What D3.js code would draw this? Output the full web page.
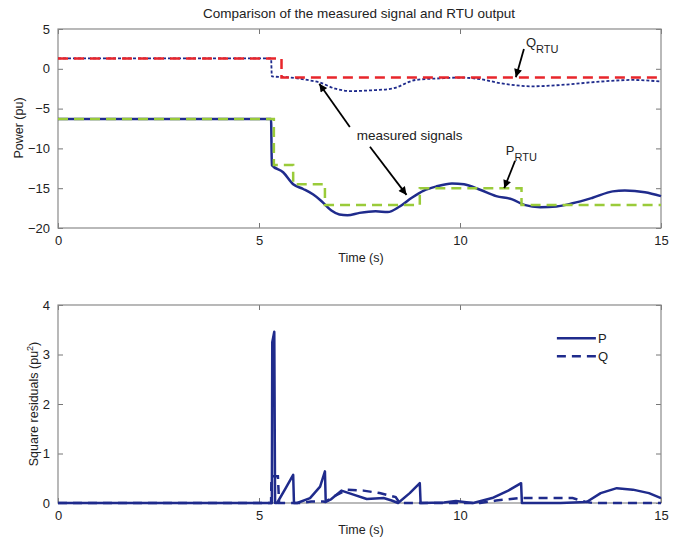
<!DOCTYPE html>
<html>
<head>
<meta charset="utf-8">
<script src="https://cdn.jsdelivr.net/npm/d3@7"></script>
<style>
  body { margin: 0; background: #fff; }
  text { font-family: "Liberation Sans", Arial, sans-serif; fill: #222; }
</style>
</head>
<body>
<div id="chart"></div>
<script>
// data (time in s)
var pMeasured = [[0,-6.3],[5.3,-6.3],[5.32,-12.1],[5.6,-13.0],[5.85,-14.5],[6.1,-15.1],[6.35,-15.8],[6.55,-16.6],[6.8,-17.8],[7.0,-18.3],[7.2,-18.4],[7.5,-18.1],[7.9,-17.9],[8.2,-18.0],[8.5,-17.3],[8.8,-16.2],[9.1,-15.3],[9.4,-14.8],[9.8,-14.4],[10.1,-14.5],[10.5,-15.2],[10.9,-16.0],[11.3,-16.4],[11.6,-17.1],[12.0,-17.4],[12.4,-17.3],[12.8,-16.9],[13.3,-16.2],[13.8,-15.4],[14.1,-15.3],[14.6,-15.5],[15,-16.0]];
var qMeasured = [[0,1.3],[5.3,1.3],[5.32,-0.95],[5.8,-1.1],[6.2,-1.4],[6.5,-1.7],[6.9,-2.5],[7.3,-2.8],[7.8,-2.7],[8.3,-2.5],[8.9,-1.4],[9.5,-1.2],[10.0,-1.1],[10.5,-1.3],[11.0,-1.8],[11.8,-2.2],[12.6,-2.0],[13.5,-1.6],[14.3,-1.4],[15,-1.6]];
var pRtu = [[0,-6.3],[5.37,-12.1],[5.85,-14.5],[6.64,-17.1],[9.0,-15.0],[11.53,-17.1],[15,-17.1]];
var qRtu = [[0,1.3],[5.56,-1.1],[15,-1.1]];

var pResidual = [[0,0],[5.32,0],[5.33,3.25],[5.38,3.46],[5.4,0],[5.45,0],[5.65,0.28],[5.85,0.57],[5.87,0],[5.95,0],[6.27,0.1],[6.52,0.33],[6.64,0.64],[6.66,0.02],[6.8,0.08],[7.05,0.25],[7.35,0.17],[7.68,0.08],[8.1,0.1],[8.3,0.05],[8.46,0],[8.75,0.2],[9.0,0.4],[9.02,0],[9.6,0.01],[9.9,0.04],[10.1,0.02],[10.33,0],[10.8,0.1],[11.2,0.25],[11.52,0.4],[11.54,0],[12.5,0],[13.15,0.02],[13.5,0.2],[13.9,0.3],[14.3,0.27],[14.7,0.2],[15,0.1]];
var qResidual = [[0,0],[5.3,0],[5.31,0.54],[5.47,0.54],[5.5,0],[6.0,0],[6.3,0.03],[6.6,0.03],[6.64,0.02],[6.9,0.15],[7.2,0.27],[7.6,0.25],[8.0,0.2],[8.4,0.12],[8.5,0],[10.5,0],[10.9,0.05],[11.5,0.1],[12.8,0.1],[13.1,0.03],[13.3,0],[15,0]];

var xTicks = [0, 5, 10, 15];
var topTicks = [-20, -15, -10, -5, 0, 5];
var bottomTicks = [0, 1, 2, 3, 4];

var svgWidth = 681;
var svgHeight = 538;

var navy = "#1f2b8c";
var red = "#e8262b";
var green = "#9acb3a";

var svg = d3.select("#chart")
    .append("svg")
    .attr("width", svgWidth)
    .attr("height", svgHeight);

// arrow head
svg.append("defs").append("marker")
    .attr("id", "head")
    .attr("viewBox", "0 0 10 10")
    .attr("refX", 10)
    .attr("refY", 5)
    .attr("markerWidth", 10)
    .attr("markerHeight", 8)
    .attr("markerUnits", "userSpaceOnUse")
    .attr("orient", "auto")
    .append("path")
    .attr("d", "M0,0 L10,5 L0,10 Z")
    .attr("fill", "#000");

var plotLeft = 58, plotWidth = 603;
var x = d3.scaleLinear().domain([0, 15]).range([plotLeft, plotLeft + plotWidth]);

var yTop = d3.scaleLinear().domain([-20, 5]).range([228, 29]);
var yBot = d3.scaleLinear().domain([0, 4]).range([503, 305]);

function drawAxes(y, yTicks) {
    var g = svg.append("g");
    var y0 = y.range()[0], y1 = y.range()[1];

    g.append("g")
        .attr("transform", `translate(0, ${y0})`)
        .call(d3.axisBottom(x).tickValues(xTicks).tickFormat(d3.format("d")).tickSizeInner(-5).tickSizeOuter(0).tickPadding(8));
    g.append("g")
        .attr("transform", `translate(0, ${y1})`)
        .call(d3.axisTop(x).tickValues(xTicks).tickFormat("").tickSizeInner(-5).tickSizeOuter(0));
    g.append("g")
        .attr("transform", `translate(${plotLeft}, 0)`)
        .call(d3.axisLeft(y).tickValues(yTicks).tickFormat(d3.format("d")).tickSizeInner(-5).tickSizeOuter(0).tickPadding(8));
    g.append("g")
        .attr("transform", `translate(${plotLeft + plotWidth}, 0)`)
        .call(d3.axisRight(y).tickValues(yTicks).tickFormat("").tickSizeInner(-5).tickSizeOuter(0));

    g.selectAll(".domain").remove();
    g.selectAll(".tick line").attr("stroke", "#777");
    g.selectAll(".tick text")
        .attr("font-size", 13)
        .attr("fill", "#222")
        .style("font-family", "Liberation Sans, Arial, sans-serif");

    g.append("rect")
        .attr("x", plotLeft)
        .attr("y", y1)
        .attr("width", plotWidth)
        .attr("height", y0 - y1)
        .attr("fill", "none")
        .attr("stroke", "#8a8a8a")
        .attr("stroke-width", 1.2);
}

drawAxes(yTop, topTicks);
drawAxes(yBot, bottomTicks);

// top panel lines
var lineTopSmooth = d3.line().x(d => x(d[0])).y(d => yTop(d[1])).curve(d3.curveMonotoneX);
var lineTopStep = d3.line().x(d => x(d[0])).y(d => yTop(d[1])).curve(d3.curveStepAfter);

svg.append("path").datum(pMeasured)
    .attr("d", lineTopSmooth)
    .attr("fill", "none").attr("stroke", navy).attr("stroke-width", 2.5);
svg.append("path").datum(qMeasured)
    .attr("d", lineTopSmooth)
    .attr("fill", "none").attr("stroke", navy).attr("stroke-width", 1.8)
    .attr("stroke-dasharray", "3,2");
svg.append("path").datum(pRtu)
    .attr("d", lineTopStep)
    .attr("fill", "none").attr("stroke", green).attr("stroke-width", 2.5)
    .attr("stroke-dasharray", "10,6");
svg.append("path").datum(qRtu)
    .attr("d", lineTopStep)
    .attr("fill", "none").attr("stroke", red).attr("stroke-width", 2.5)
    .attr("stroke-dasharray", "10,6");

// bottom panel lines
var lineBot = d3.line().x(d => x(d[0])).y(d => yBot(d[1]));

svg.append("path").datum(qResidual)
    .attr("d", lineBot)
    .attr("fill", "none").attr("stroke", navy).attr("stroke-width", 2.5)
    .attr("stroke-dasharray", "9,6");
svg.append("path").datum(pResidual)
    .attr("d", lineBot)
    .attr("fill", "none").attr("stroke", navy).attr("stroke-width", 2.5)
    .attr("stroke-linejoin", "round");

// annotations (data units)
function arrow(from, to) {
    svg.append("line")
        .attr("x1", x(from[0])).attr("y1", yTop(from[1]))
        .attr("x2", x(to[0])).attr("y2", yTop(to[1]))
        .attr("stroke", "#000").attr("stroke-width", 1.8)
        .attr("marker-end", "url(#head)");
}
arrow([11.59, 2.5], [11.39, -1.05]);
arrow([7.26, -7.3], [6.5, -1.87]);
arrow([7.76, -9.8], [8.67, -15.84]);
arrow([11.37, -11.55], [11.1, -15.0]);

function subLabel(t, v, main, sub) {
    var txt = svg.append("text")
        .attr("x", x(t)).attr("y", yTop(v))
        .attr("font-size", 13);
    txt.append("tspan").text(main);
    txt.append("tspan").attr("dy", 6).attr("font-size", 11).text(sub);
}
subLabel(11.64, 2.7, "Q", "RTU");
subLabel(11.14, -10.84, "P", "RTU");

svg.append("text")
    .attr("x", x(7.43)).attr("y", yTop(-8.95))
    .attr("font-size", 13.5)
    .text("measured signals");

// titles and axis labels
svg.append("text")
    .attr("x", 359).attr("y", 18)
    .attr("text-anchor", "middle")
    .attr("font-size", 13.5)
    .text("Comparison of the measured signal and RTU output");

svg.append("text")
    .attr("x", 361).attr("y", 262)
    .attr("text-anchor", "middle")
    .attr("font-size", 12.5)
    .text("Time (s)");

svg.append("text")
    .attr("x", 361).attr("y", 534)
    .attr("text-anchor", "middle")
    .attr("font-size", 12.5)
    .text("Time (s)");

svg.append("text")
    .attr("transform", "rotate(-90)")
    .attr("x", -128).attr("y", 23)
    .attr("text-anchor", "middle")
    .attr("font-size", 12.5)
    .text("Power (pu)");

var ylab = svg.append("text")
    .attr("transform", "rotate(-90)")
    .attr("x", -404).attr("y", 38)
    .attr("text-anchor", "middle")
    .attr("font-size", 12.5);
ylab.append("tspan").text("Square residuals  (pu");
ylab.append("tspan").attr("dy", -5).attr("font-size", 9).text("2");
ylab.append("tspan").attr("dy", 5).text(")");

// legend
var legend = svg.append("g").attr("transform", `translate(${x(12.41)}, ${yBot(3.33)})`);
var legendItems = [["P", null], ["Q", "9,6"]];
legendItems.forEach(function(item, i) {
    legend.append("line")
        .attr("x1", 0).attr("x2", 39)
        .attr("y1", i * 18).attr("y2", i * 18)
        .attr("stroke", navy).attr("stroke-width", 2.5)
        .attr("stroke-dasharray", item[1]);
    legend.append("text")
        .attr("x", 41).attr("y", i * 18 + 5)
        .attr("font-size", 13)
        .text(item[0]);
});
</script>
</body>
</html>
